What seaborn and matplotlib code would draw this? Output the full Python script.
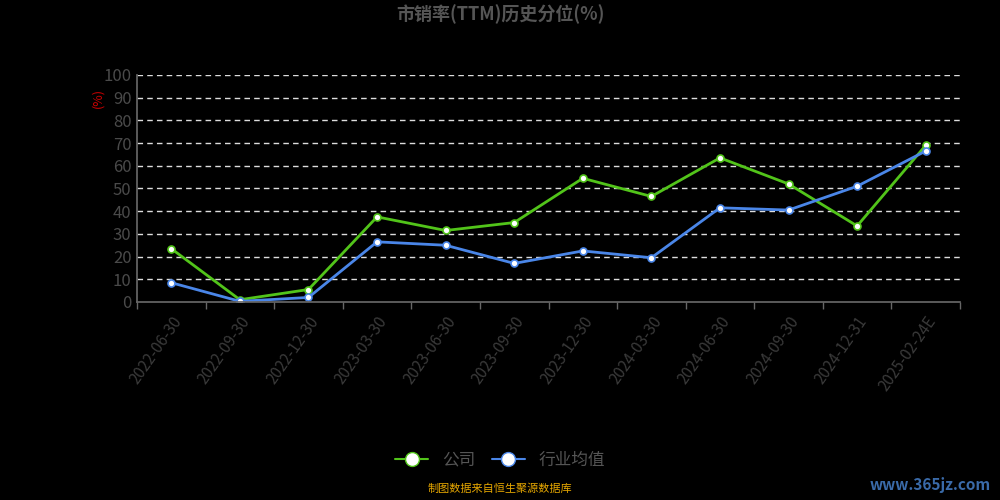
import matplotlib
matplotlib.use("Agg")
import matplotlib.pyplot as plt
import seaborn as sns
import pandas as pd
from matplotlib.lines import Line2D

dates = ["2022-06-30","2022-09-30","2022-12-30","2023-03-30","2023-06-30","2023-09-30",
         "2023-12-30","2024-03-30","2024-06-30","2024-09-30","2024-12-31","2025-02-24E"]
company = [23.5, 1.0, 5.5, 37.5, 31.5, 35.0, 54.5, 46.5, 63.5, 52.0, 33.5, 69.0]
industry = [8.5, 0.3, 2.0, 26.5, 25.0, 17.0, 22.5, 19.5, 41.5, 40.5, 51.0, 66.5]
yticks = list(range(0, 101, 10))

sns.set_theme(style="dark")
plt.rcParams['font.family'] = ['Noto Sans CJK SC', 'DejaVu Sans']

fig = plt.figure(figsize=(10, 5), dpi=100, facecolor="black")
ax = fig.add_axes([0.137, 0.396, 0.823, 0.454])
ax.set_facecolor("black")

df = pd.DataFrame({"x": list(range(len(dates))), "公司": company, "行业均值": industry})
green = "#52c41a"; blue = "#4a86e8"
sns.lineplot(data=df, x="x", y="公司", ax=ax, color=green, lw=2, marker="o",
             markersize=5, markerfacecolor="white", markeredgecolor=green, markeredgewidth=1.2)
sns.lineplot(data=df, x="x", y="行业均值", ax=ax, color=blue, lw=2, marker="o",
             markersize=5, markerfacecolor="white", markeredgecolor=blue, markeredgewidth=1.2)

ax.set_xlim(-0.5, len(dates) - 0.5)
ax.set_ylim(0, 100)
ax.set_yticks(yticks)
ax.set_yticklabels([str(v) for v in yticks], color="#4a4a4a", fontsize=12)
ax.set_xticks(range(len(dates)))
ax.set_xticklabels(dates, rotation=55, ha="right", rotation_mode="anchor", color="#3a3a3a", fontsize=11)
ax.set_xticks([i - 0.5 for i in range(len(dates) + 1)], minor=True)
ax.tick_params(axis="x", which="major", length=0, pad=8)
ax.tick_params(axis="x", which="minor", length=5, color="#666666", bottom=True)
ax.tick_params(axis="y", length=0, pad=4)
for y in yticks[1:]:
    ax.axhline(y, color="#dddddd", lw=1, ls=(0, (4, 3)), zorder=0)
ax.grid(False)
for s in ["top", "right"]:
    ax.spines[s].set_visible(False)
for s in ["left", "bottom"]:
    ax.spines[s].set_color("#666666")
ax.set_xlabel(""); ax.set_ylabel("")
fig.text(0.098, 0.805, "(%)", color="#cc0000", fontsize=9, rotation=90, ha="center", va="center")
fig.text(0.5, 0.972, "市销率(TTM)历史分位(%)", color="#555555", fontsize=13, fontweight="bold", ha="center", va="center")

handles = [Line2D([], [], color=green, lw=1.5, marker="o", markersize=10, markerfacecolor="white", markeredgecolor=green),
           Line2D([], [], color=blue, lw=1.5, marker="o", markersize=10, markerfacecolor="white", markeredgecolor=blue)]
leg = fig.legend(handles, ["公司", "行业均值"], loc="center", bbox_to_anchor=(0.5, 0.08), ncol=2,
                 frameon=False, fontsize=12, labelcolor="#555555", handlelength=2, columnspacing=1)
fig.text(0.5, 0.013, "制图数据来自恒生聚源数据库", color="#e6a700", fontsize=8, ha="center", va="bottom")
fig.text(0.93, 0.03, "www.365jz.com", color="#3a6aa8", fontsize=11, fontweight="bold", ha="center", va="center")

fig.savefig("out.png", dpi=100, facecolor="black")
